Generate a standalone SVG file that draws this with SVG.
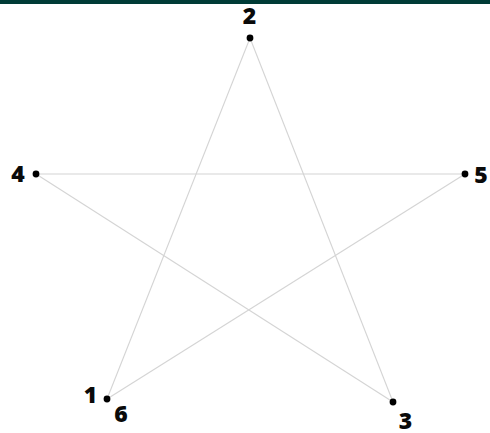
<svg xmlns="http://www.w3.org/2000/svg" width="490" height="433" viewBox="0 0 490 433">
<style>
.lbl{font-family:"Open Sans","Liberation Sans",sans-serif;font-weight:800;font-size:23px;fill:#0a0a0a;text-anchor:middle}
.dot{fill:#000}
.edge{stroke:#d4d4d4;stroke-width:1.1;fill:none}
</style>
<rect x="0" y="0" width="490" height="433" fill="#fff"/>
<rect x="0" y="0" width="490" height="4" fill="#003b36"/>
<g id="connectors">
<line class="edge" x1="107" y1="399" x2="250" y2="38"/>
<line class="edge" x1="250" y1="38" x2="393" y2="402"/>
<line class="edge" x1="393" y1="402" x2="36" y2="174"/>
<line class="edge" x1="36" y1="174" x2="465" y2="174"/>
<line class="edge" x1="465" y1="174" x2="107" y2="399"/>
</g>
<g id="node1"><circle class="dot" cx="107" cy="399" r="3.4"/><text class="lbl" x="90.5" y="403">1</text></g>
<g id="node6"><text class="lbl" x="121" y="422">6</text></g>
<g id="node2"><circle class="dot" cx="250" cy="38" r="3.4"/><text class="lbl" x="249.5" y="24">2</text></g>
<g id="node3"><circle class="dot" cx="393" cy="402" r="3.4"/><text class="lbl" x="405.5" y="429">3</text></g>
<g id="node4"><circle class="dot" cx="36" cy="174" r="3.4"/><text class="lbl" x="18" y="182">4</text></g>
<g id="node5"><circle class="dot" cx="465" cy="174" r="3.4"/><text class="lbl" x="481" y="183">5</text></g>
</svg>
